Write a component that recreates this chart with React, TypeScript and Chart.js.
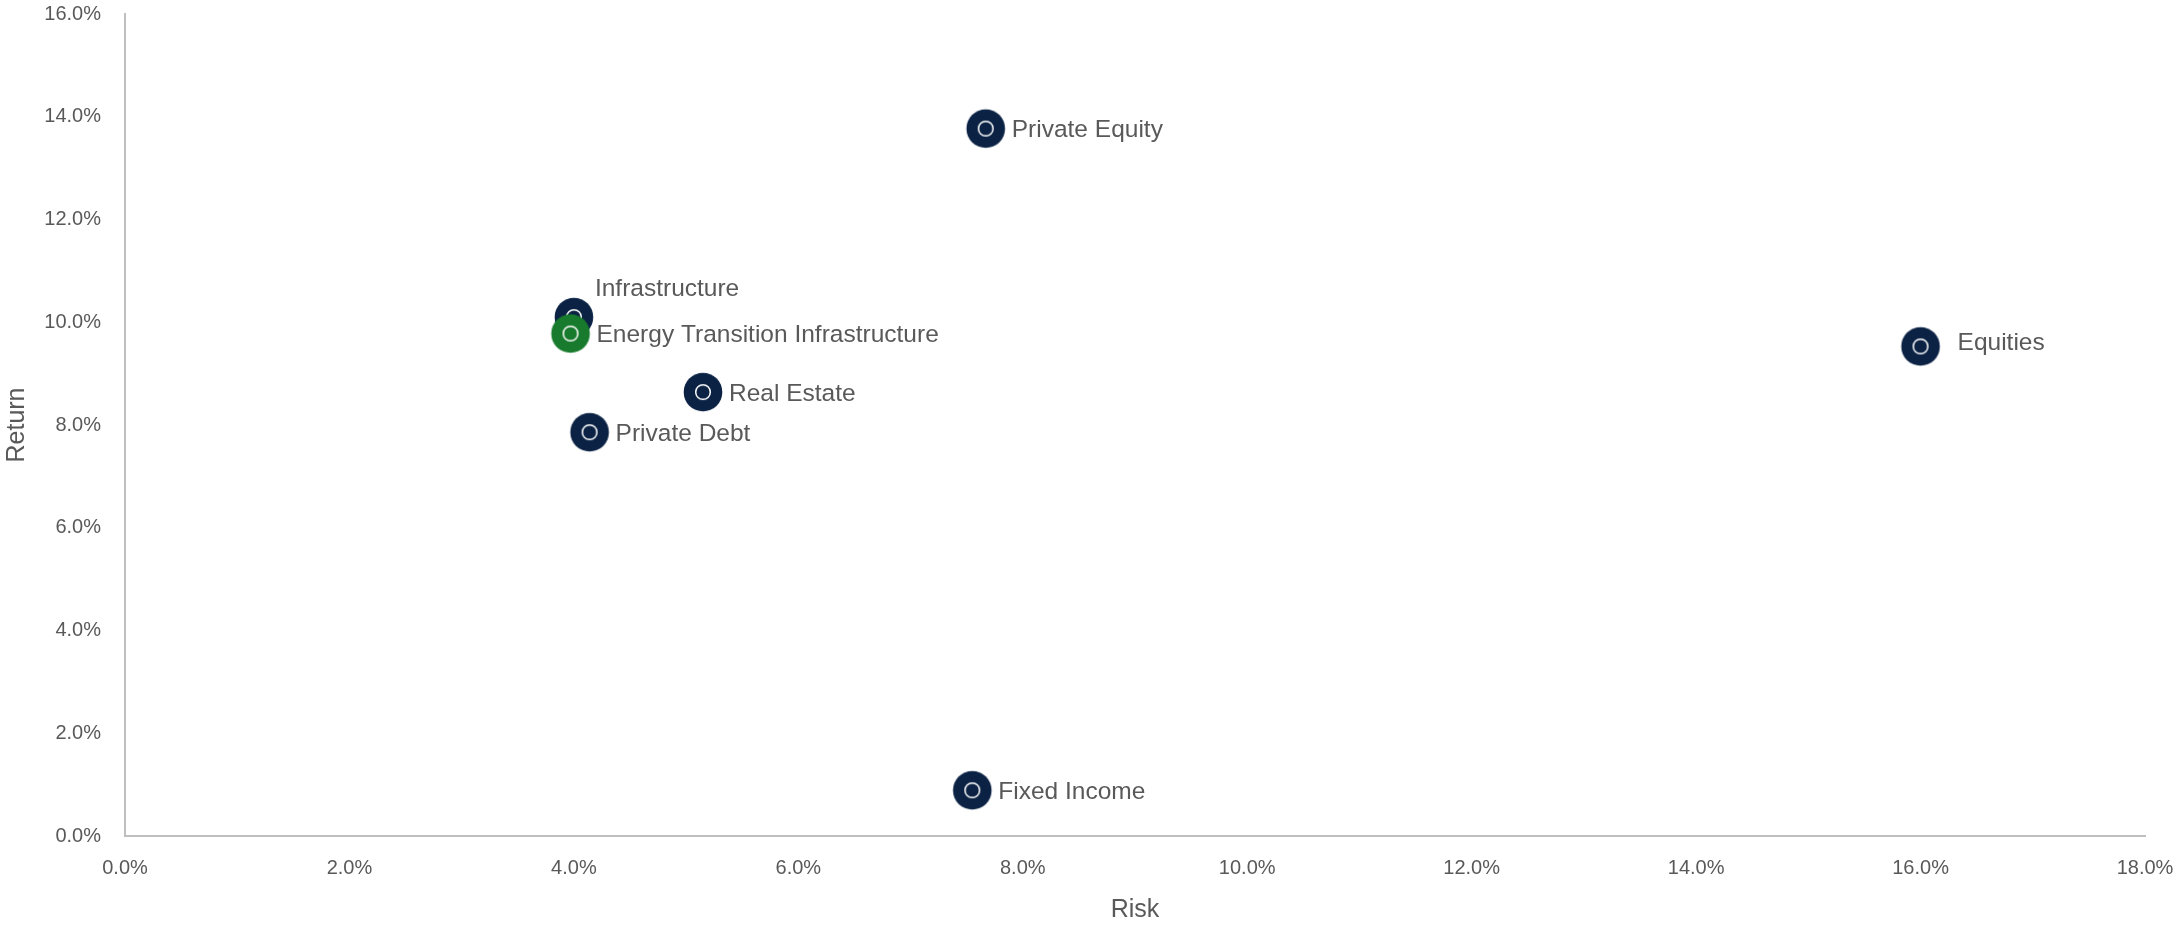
import React, { useEffect, useRef } from "react";
import { Chart, registerables } from "chart.js";

Chart.register(...registerables);

// ---- data ----
const categories = [
  "Equities",
  "Fixed Income",
  "Private Equity",
  "Real Estate",
  "Private Debt",
  "Infrastructure",
  "Energy Transition Infrastructure",
];
const riskValues = [16.0, 7.55, 7.67, 5.15, 4.14, 4.0, 3.97];
const returnValues = [9.53, 0.89, 13.77, 8.64, 7.86, 10.1, 9.78];
const xTicks = [0, 2, 4, 6, 8, 10, 12, 14, 16, 18];
const yTicks = [0, 2, 4, 6, 8, 10, 12, 14, 16];

// ---- style ----
const NAVY = "#0b2244";
const GREEN = "#187a2d";
const TEXT = "#595959";
const AXIS = "#bfbfbf";
const FONT = "'Liberation Sans', Arial, sans-serif";
const highlight = "Energy Transition Infrastructure";
const labelOffsets: Record<string, { dx: number; dy: number }> = {
  Equities: { dx: 37, dy: -3 },
  Infrastructure: { dx: 21, dy: -28 },
};
const defaultOffset = { dx: 26, dy: 2 };

function makeMarker(color: string): HTMLCanvasElement {
  const size = 42;
  const c = document.createElement("canvas");
  c.width = size;
  c.height = size;
  const ctx = c.getContext("2d")!;
  ctx.beginPath();
  ctx.arc(size / 2, size / 2, 19.3, 0, Math.PI * 2);
  ctx.fillStyle = color;
  ctx.fill();
  ctx.beginPath();
  ctx.arc(size / 2, size / 2, 7.3, 0, Math.PI * 2);
  ctx.strokeStyle = "#ffffff";
  ctx.lineWidth = 1.5;
  ctx.stroke();
  return c;
}

const labelPlugin = {
  id: "pointLabels",
  afterDatasetsDraw(chart: any) {
    const ctx = chart.ctx;
    const meta = chart.getDatasetMeta(0);
    ctx.save();
    ctx.font = `24.5px ${FONT}`;
    ctx.fillStyle = TEXT;
    ctx.textAlign = "left";
    ctx.textBaseline = "middle";
    meta.data.forEach((pt: any, i: number) => {
      const name = categories[i];
      const off = labelOffsets[name] || defaultOffset;
      ctx.fillText(name, pt.x + off.dx, pt.y + off.dy);
    });
    ctx.restore();
  },
};

export default function App() {
  const ref = useRef<HTMLCanvasElement | null>(null);
  useEffect(() => {
    document.body.style.margin = "0";
    document.body.style.overflow = "hidden";
    const navy = makeMarker(NAVY);
    const green = makeMarker(GREEN);
    const chart = new Chart(ref.current!, {
      type: "scatter",
      data: {
        datasets: [
          {
            label: "Assets",
            data: riskValues.map((x, i) => ({ x, y: returnValues[i] })),
            pointStyle: categories.map((c) => (c === highlight ? green : navy)) as any,
            pointRadius: 19,
            pointHoverRadius: 19,
          },
        ],
      },
      options: {
        responsive: false,
        animation: false,
        layout: { padding: { top: 6, right: 31, left: 0, bottom: 0 } },
        plugins: {
          legend: { display: false },
          tooltip: { enabled: false },
        },
        scales: {
          x: {
            type: "linear",
            min: 0,
            max: 18,
            afterBuildTicks: (s: any) => {
              s.ticks = xTicks.map((v) => ({ value: v }));
            },
            afterFit: (s: any) => {
              s.height = 94;
            },
            grid: { display: false, drawTicks: true, tickLength: 20, tickColor: "rgba(0,0,0,0)" },
            border: { display: true, color: AXIS, width: 2 },
            ticks: {
              padding: 0,
              color: TEXT,
              font: { family: FONT, size: 20 },
              maxRotation: 0,
              callback: (v: any) => Number(v).toFixed(1) + "%",
            },
            title: {
              display: true,
              text: "Risk",
              color: TEXT,
              font: { family: FONT, size: 25 },
              padding: { top: 0, bottom: 5 },
            },
          },
          y: {
            type: "linear",
            min: 0,
            max: 16,
            afterBuildTicks: (s: any) => {
              s.ticks = yTicks.map((v) => ({ value: v }));
            },
            afterFit: (s: any) => {
              s.width = 125;
            },
            grid: { display: false, drawTicks: true, tickLength: 24, tickColor: "rgba(0,0,0,0)" },
            border: { display: true, color: AXIS, width: 2 },
            ticks: {
              padding: 0,
              color: TEXT,
              font: { family: FONT, size: 20, lineHeight: 0.5 },
              callback: (v: any) => Number(v).toFixed(1) + "%",
            },
            title: {
              display: true,
              text: "Return",
              color: TEXT,
              font: { family: FONT, size: 25 },
              padding: { top: 2, bottom: 0 },
            },
          },
        },
      },
      plugins: [labelPlugin],
    });
    return () => chart.destroy();
  }, []);
  return (
    <div style={{ width: 2176, height: 930, overflow: "hidden" }}>
      <canvas
        ref={ref}
        width={2176}
        height={936}
        style={{ display: "block", marginTop: -6 }}
      />
    </div>
  );
}
